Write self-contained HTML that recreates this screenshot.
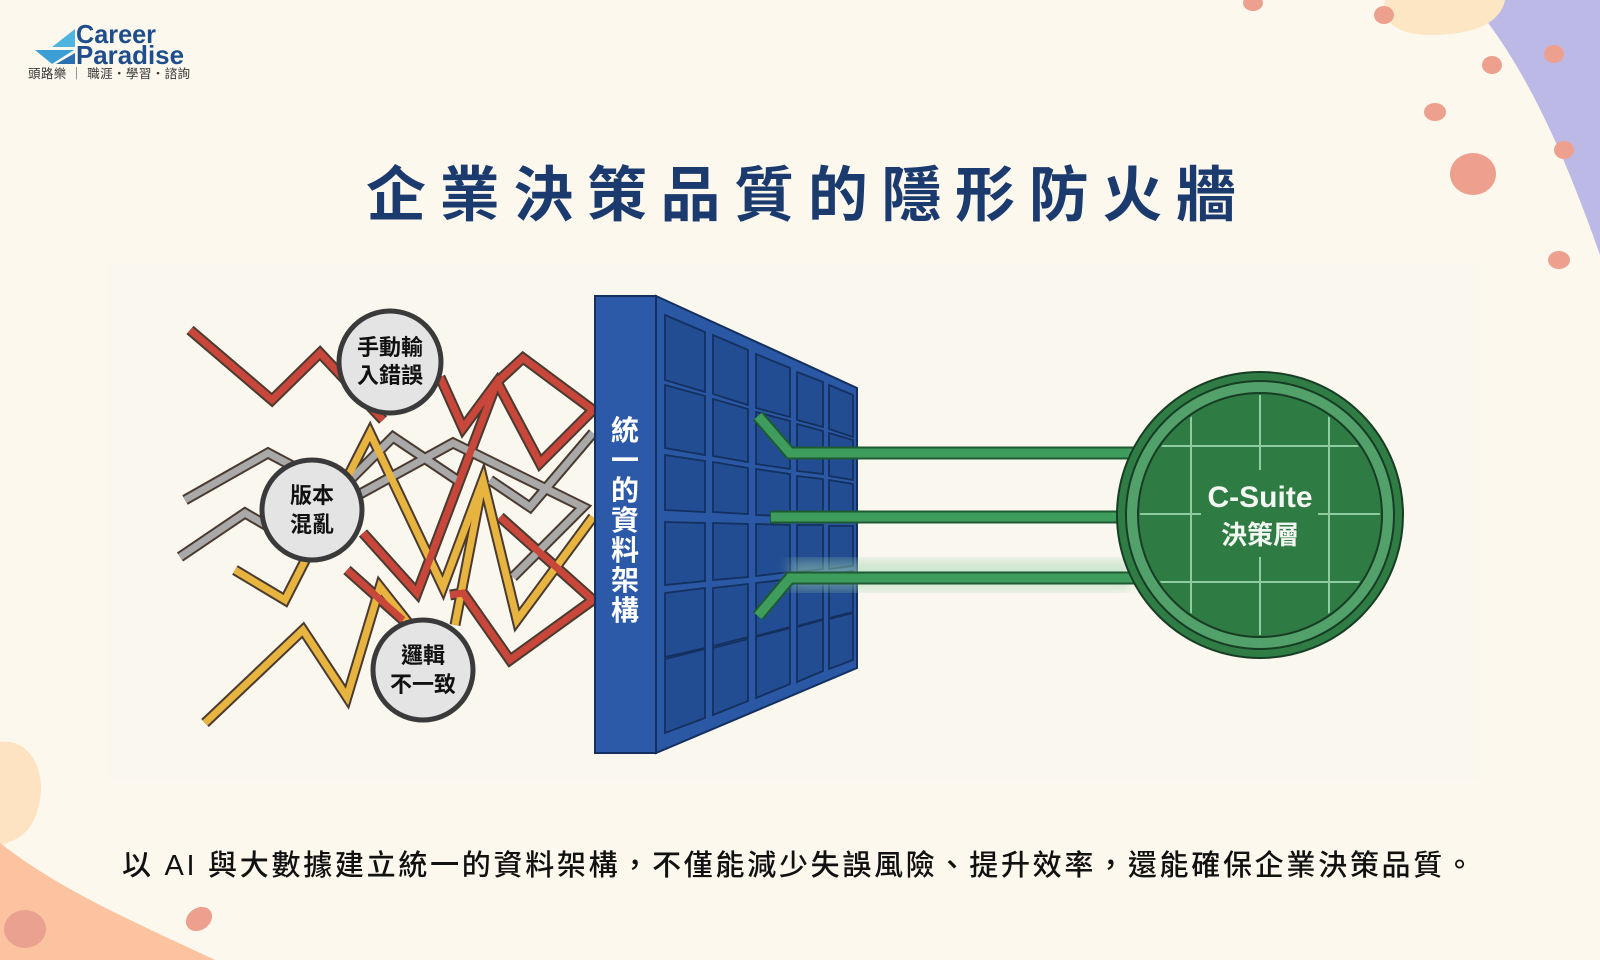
<!DOCTYPE html>
<html><head><meta charset="utf-8"><style>
html,body{margin:0;padding:0;background:#fdf8ee;}
svg{display:block}
.cjk{font-family:"Liberation Sans","Noto Sans CJK TC","Noto Sans CJK SC",sans-serif;}
</style></head><body>
<svg width="1600" height="960" viewBox="0 0 1600 960" xmlns="http://www.w3.org/2000/svg" class="cjk">
<defs>
<clipPath id="inner"><circle cx="1260" cy="515" r="120"/></clipPath>
<filter id="blur"><feGaussianBlur stdDeviation="6"/></filter>
</defs>
<rect width="1600" height="960" fill="#fdf8ee"/>
<path d="M1470,0 L1600,0 L1600,255 C1570,170 1530,70 1470,0 Z" fill="#bdb9e6"/>
<path d="M1385,0 L1505,0 C1500,25 1470,35 1430,35 C1395,35 1380,20 1385,0 Z" fill="#fde6c4"/>
<g fill="#eda08e">
<ellipse cx="1253" cy="3" rx="10" ry="8"/>
<ellipse cx="1384" cy="15" rx="10" ry="9"/>
<ellipse cx="1492" cy="65" rx="10" ry="9"/>
<ellipse cx="1554" cy="54" rx="10" ry="9"/>
<ellipse cx="1435" cy="112" rx="11" ry="9"/>
<ellipse cx="1473" cy="174" rx="23" ry="21"/>
<ellipse cx="1564" cy="150" rx="10" ry="9"/>
<ellipse cx="1559" cy="260" rx="11" ry="9"/>
</g>
<path d="M0,742 C30,738 45,770 40,800 C35,830 20,840 0,845 Z" fill="#fde3c2"/>
<path d="M0,843 C60,890 130,920 215,960 L0,960 Z" fill="#fbc3a0"/>
<ellipse cx="25" cy="929" rx="21" ry="19" fill="#eba18f"/>
<ellipse cx="199" cy="919" rx="14" ry="11" fill="#eda08e" transform="rotate(-35 199 919)"/>
<polygon points="35,50 74,50 52,64" fill="#3b9fd6"/>
<polygon points="52,47 75,29 75,47" fill="#4fb5e0"/>
<polygon points="56,64 75,53 75,64" fill="#2a6fb0"/>
<text x="76" y="43" font-family="Liberation Sans,sans-serif" font-weight="bold" font-size="26" fill="#1f4e8c" textLength="80" lengthAdjust="spacingAndGlyphs">Career</text>
<text x="76" y="64" font-family="Liberation Sans,sans-serif" font-weight="bold" font-size="26" fill="#1f4e8c" textLength="108" lengthAdjust="spacingAndGlyphs">Paradise</text>
<text x="28" y="78" font-size="12.5" fill="#333" textLength="162">頭路樂 ｜ 職涯・學習・諮詢</text>
<text x="801" y="216" text-anchor="middle" font-size="60" font-weight="bold" fill="#1b3a6e" textLength="870" lengthAdjust="spacing">企業決策品質的隱形防火牆</text>
<rect x="107" y="264" width="1372" height="516" fill="#faf7ee"/>
<g fill="none" stroke-linejoin="miter" stroke-linecap="butt">
<g stroke="#4a3a30" stroke-width="11">
<polyline points="180,557 245,513 300,545"/>
<polyline points="185,500 268,453 300,470"/>
<polyline points="340,490 393,437 457,480"/>
<polyline points="340,505 453,443 583,507 513,577"/>
<polyline points="490,480 530,507 593,433"/>
<polyline points="235,570 285,600 370,433 443,587 483,480 517,620 593,517"/>
<polyline points="205,723 303,630 347,697 380,587 410,625"/>
<polyline points="455,625 483,480"/>
<polyline points="190,330 272,400 320,353 383,420"/>
<polyline points="440,377 463,428 497,382 540,463 593,410 523,358 497,382 417,593 363,533"/>
<polyline points="347,570 403,620"/>
<polyline points="450,595 463,593 510,660 593,600 500,517"/>
</g>
<g stroke="#a9a9a9" stroke-width="7">
<polyline points="180,557 245,513 300,545"/>
<polyline points="185,500 268,453 300,470"/>
<polyline points="340,490 393,437 457,480"/>
<polyline points="340,505 453,443 583,507 513,577"/>
<polyline points="490,480 530,507 593,433"/>
</g>
<g stroke="#e8b440" stroke-width="7">
<polyline points="235,570 285,600 370,433 443,587 483,480 517,620 593,517"/>
<polyline points="205,723 303,630 347,697 380,587 410,625"/>
<polyline points="455,625 483,480"/>
</g>
<g stroke="#c8473a" stroke-width="7">
<polyline points="190,330 272,400 320,353 383,420"/>
<polyline points="440,377 463,428 497,382 540,463 593,410 523,358 497,382 417,593 363,533"/>
<polyline points="347,570 403,620"/>
<polyline points="450,595 463,593 510,660 593,600 500,517"/>
</g>
</g>
<g stroke="#3a3a3a" stroke-width="5" fill="#e4e4e4">
<circle cx="390" cy="362" r="51"/>
<circle cx="312" cy="510" r="50"/>
<circle cx="423" cy="670" r="50"/>
</g>
<g font-size="22" font-weight="bold" fill="#111" text-anchor="middle">
<text x="390" y="355">手動輸</text><text x="390" y="383">入錯誤</text>
<text x="312" y="503">版本</text><text x="312" y="532">混亂</text>
<text x="423" y="663">邏輯</text><text x="423" y="692">不一致</text>
</g>
<polygon points="656,296 857,388 857,668 656,753" fill="#2b58a5" stroke="#14305e" stroke-width="2"/>
<g fill="#234d93" stroke="#14305e" stroke-width="1.8">
<polygon points="665,315 705,332 705,392 665,380"/><polygon points="665,385 705,396 705,455 665,448"/><polygon points="665,455 705,461 705,512 665,510"/><polygon points="665,522 705,523 705,581 665,585"/><polygon points="665,593 705,588 705,648 665,657"/><polygon points="665,659 705,649 705,718 665,733"/>
<polygon points="713,335 748,350 748,405 713,394"/><polygon points="713,399 748,409 748,462 713,456"/><polygon points="713,462 748,468 748,514 713,512"/><polygon points="713,523 748,524 748,577 713,580"/><polygon points="713,588 748,584 748,637 713,646"/><polygon points="713,648 748,639 748,701 713,715"/>
<polygon points="756,354 790,368 790,417 756,408"/><polygon points="756,412 790,421 790,469 756,464"/><polygon points="756,469 790,474 790,516 756,515"/><polygon points="756,524 790,525 790,572 756,576"/><polygon points="756,583 790,579 790,627 756,636"/><polygon points="756,637 790,628 790,684 756,698"/>
<polygon points="797,372 823,382 823,427 797,420"/><polygon points="797,424 823,431 823,474 797,471"/><polygon points="797,476 823,479 823,517 797,516"/><polygon points="797,525 823,525 823,569 797,572"/><polygon points="797,578 823,575 823,619 797,626"/><polygon points="797,627 823,620 823,671 797,682"/>
<polygon points="829,385 853,395 853,437 829,429"/><polygon points="829,433 853,440 853,480 829,476"/><polygon points="829,480 853,484 853,519 829,518"/><polygon points="829,526 853,526 853,566 829,569"/><polygon points="829,574 853,571 853,612 829,618"/><polygon points="829,619 853,613 853,660 829,669"/>
</g>
<rect x="595" y="296" width="61" height="457" fill="#2d5aa8" stroke="#14305e" stroke-width="2"/>
<g font-size="28" font-weight="bold" fill="#fff" text-anchor="middle">
<text x="625" y="440">統</text><text x="625" y="470">一</text><text x="625" y="500">的</text><text x="625" y="530">資</text><text x="625" y="560">料</text><text x="625" y="590">架</text><text x="625" y="620">構</text>
</g>
<rect x="790" y="560" width="340" height="30" fill="#9fd4ae" opacity="0.5" filter="url(#blur)"/>
<g fill="none" stroke-linejoin="miter">
<g stroke="#1e5a33" stroke-width="13">
<polyline points="758,416 790,453 1140,453"/>
<polyline points="770,517 1140,517"/>
<polyline points="758,616 790,578 1140,578"/>
</g>
<g stroke="#3e9c5c" stroke-width="9">
<polyline points="758,416 790,453 1140,453"/>
<polyline points="771,517 1140,517"/>
<polyline points="758,616 790,578 1140,578"/>
</g>
</g>
<circle cx="1260" cy="515" r="143" fill="#2f7d45" stroke="#173d24" stroke-width="2"/>
<circle cx="1260" cy="515" r="134" fill="#52a06a" stroke="#173d24" stroke-width="2"/>
<circle cx="1260" cy="515" r="122" fill="#2e7b43" stroke="#173d24" stroke-width="2"/>
<g clip-path="url(#inner)" stroke="#8fcc9f" stroke-width="2">
<line x1="1191" y1="380" x2="1191" y2="650"/>
<line x1="1329" y1="380" x2="1329" y2="650"/>
<line x1="1260" y1="380" x2="1260" y2="470"/>
<line x1="1260" y1="557" x2="1260" y2="650"/>
<line x1="1120" y1="446" x2="1400" y2="446"/>
<line x1="1120" y1="582" x2="1400" y2="582"/>
<line x1="1120" y1="514" x2="1201" y2="514"/>
<line x1="1318" y1="514" x2="1400" y2="514"/>
</g>
<text x="1260" y="507" text-anchor="middle" font-size="30" font-weight="bold" fill="#f2f7f2">C-Suite</text>
<text x="1260" y="544" text-anchor="middle" font-size="26" font-weight="bold" fill="#f2f7f2">決策層</text>
<text x="122" y="875" font-size="29" font-weight="500" fill="#111" textLength="1352" lengthAdjust="spacing">以 AI 與大數據建立統一的資料架構，不僅能減少失誤風險、提升效率，還能確保企業決策品質。</text>
</svg>
</body></html>
